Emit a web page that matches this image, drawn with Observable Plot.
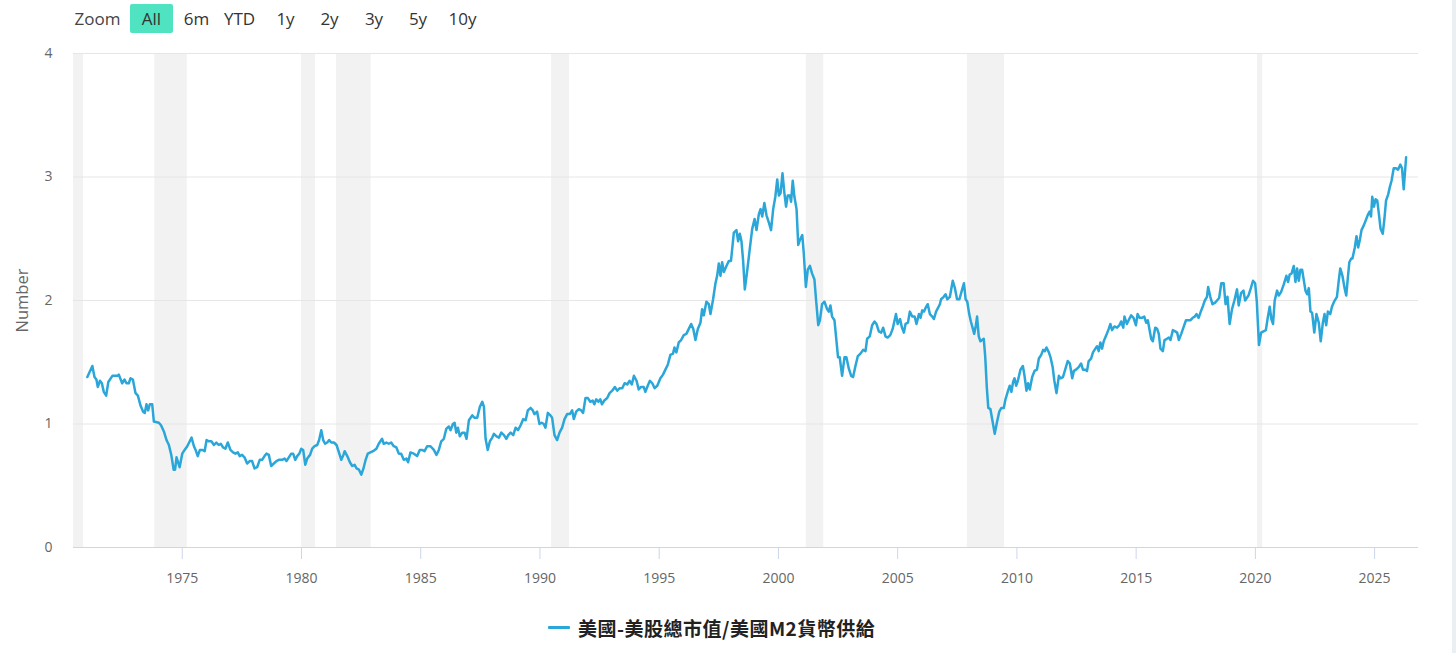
<!DOCTYPE html>
<html>
<head>
<meta charset="utf-8">
<script src="https://cdn.jsdelivr.net/npm/d3@7"></script>
<script src="https://cdn.jsdelivr.net/npm/@observablehq/plot@0.6"></script>
<style>
  html, body { margin: 0; padding: 0; background: #fff; overflow: hidden; }
  #wrap { position: relative; width: 1456px; height: 653px; font-family: "Open Sans", sans-serif; }
  #head { position: relative; height: 40px; }
  .btn { position: absolute; top: 18px; transform: translate(-50%, -50%); font-size: 17px; color: #333; white-space: nowrap; }
  #selbox { position: absolute; left: 130px; top: 4px; width: 43px; height: 29px; background: #4fe3c2; border-radius: 2px; }
  #legend { position: absolute; left: 548px; top: 612px; height: 30px; display: flex; align-items: center; }
  #legend .sym { width: 22px; height: 3px; background: #2aa6d9; margin-right: 8px; border-radius: 1px; }
  #legend .txt { font-family: "Noto Sans CJK TC", "Noto Sans", sans-serif; font-weight: bold; font-size: 19px; letter-spacing: 0.5px; color: #222; }
  #scroll { position: absolute; left: 1452px; top: 0; width: 4px; height: 653px; background: #eceff1; }
</style>
</head>
<body>
<div id="wrap">
  <div id="head"></div>
  <div id="chart"></div>
  <div id="legend"><div class="sym"></div><div class="txt"></div></div>
  <div id="scroll"></div>
</div>
<script>
// ---- data ----
const seriesName = "美國-美股總市值/美國M2貨幣供給";
const zoomLabel = "Zoom";
const zoomButtons = ["All", "6m", "YTD", "1y", "2y", "3y", "5y", "10y"];
const xTicks = [1975, 1980, 1985, 1990, 1995, 2000, 2005, 2010, 2015, 2020, 2025];
const yTicks = [0, 1, 2, 3, 4];
const yTitle = "Number";

const recessionStart = [1969.92, 1973.85, 1980.0, 1981.47, 1990.49, 2001.17, 2007.92, 2020.09];
const recessionEnd   = [1970.86, 1975.21, 1980.59, 1982.92, 1991.24, 2001.90, 2009.48, 2020.31];

const dates = [
1971.02,1971.23,1971.32,1971.40,1971.46,1971.55,1971.63,1971.71,1971.81,1971.90,1972.07,1972.28,1972.34,1972.48,1972.58,1972.66,1972.76,1972.83,1972.93,
1973.04,1973.14,1973.25,1973.36,1973.43,1973.50,1973.57,1973.64,1973.74,1973.81,1974.02,1974.11,1974.23,1974.34,1974.44,1974.54,1974.64,1974.70,1974.76,1974.89,
1975.00,1975.10,1975.21,1975.39,1975.49,1975.56,1975.65,1975.74,1975.84,1975.94,1976.02,1976.12,1976.22,1976.33,1976.43,1976.53,1976.62,1976.71,1976.81,1976.91,
1977.02,1977.13,1977.23,1977.33,1977.41,1977.51,1977.61,1977.72,1977.83,1977.93,1978.03,1978.14,1978.25,1978.35,1978.45,1978.53,1978.63,1978.73,
1978.84,1978.95,1979.05,1979.19,1979.29,1979.37,1979.47,1979.57,1979.65,1979.74,1979.82,1979.91,1979.99,1980.07,1980.16,1980.24,1980.36,1980.45,1980.55,1980.66,
1980.74,1980.83,1980.91,1980.99,1981.08,1981.16,1981.25,1981.36,1981.47,1981.57,1981.67,1981.76,1981.81,1981.92,1982.03,1982.13,1982.23,1982.31,1982.41,1982.51,
1982.60,1982.69,1982.78,1982.89,1983.00,1983.14,1983.24,1983.38,1983.45,1983.56,1983.66,1983.76,1983.87,1983.98,1984.08,1984.18,1984.29,1984.40,1984.47,1984.57,
1984.71,1984.85,1984.96,1985.06,1985.16,1985.27,1985.41,1985.55,1985.66,1985.76,1985.86,1985.97,1986.07,1986.18,1986.25,1986.35,1986.42,1986.49,1986.56,1986.64,
1986.74,1986.84,1986.92,1987.02,
1987.16,1987.26,1987.37,1987.48,1987.58,1987.65,1987.72,1987.81,1987.90,1988.00,1988.07,1988.18,1988.28,1988.38,1988.49,1988.59,1988.67,1988.77,1988.88,1988.98,
1989.08,1989.19,1989.30,1989.40,1989.49,1989.61,1989.70,1989.77,1989.88,1989.98,1990.07,1990.16,1990.23,1990.33,1990.44,1990.51,1990.61,1990.72,1990.82,1990.93,
1991.03,1991.14,1991.25,1991.35,1991.42,1991.52,1991.63,1991.73,1991.81,1991.91,1992.01,1992.11,1992.21,1992.28,1992.36,1992.45,1992.53,1992.60,1992.70,1992.82,
1992.92,1993.03,1993.14,1993.24,1993.35,1993.45,1993.55,1993.66,1993.76,1993.85,1993.94,1994.05,1994.14,1994.24,1994.35,1994.42,1994.52,1994.61,1994.71,1994.81,
1994.92,
1995.05,1995.16,1995.26,1995.36,1995.47,1995.58,1995.64,1995.72,1995.82,1995.92,1996.03,1996.14,1996.24,1996.34,1996.43,1996.52,1996.62,1996.73,1996.80,1996.87,
1996.98,1997.08,1997.15,1997.26,1997.36,1997.43,1997.50,1997.57,1997.64,1997.71,1997.82,1997.92,1998.01,1998.13,1998.24,1998.31,1998.38,1998.45,1998.52,1998.59,
1998.69,1998.80,1998.90,1999.00,1999.08,1999.18,1999.25,1999.32,1999.41,1999.50,1999.60,1999.69,1999.78,1999.87,1999.95,2000.02,2000.09,2000.17,2000.25,2000.32,
2000.39,2000.48,2000.53,2000.60,2000.67,2000.76,2000.83,2000.90,2001.00,2001.06,2001.15,2001.23,2001.32,2001.41,2001.51,2001.58,2001.67,2001.74,2001.83,2001.93,
2002.04,2002.11,2002.18,2002.25,2002.35,2002.43,2002.50,2002.57,2002.67,
2002.77,2002.85,2002.95,2003.05,2003.13,2003.23,2003.33,2003.44,2003.55,2003.65,2003.72,2003.83,2003.93,2004.03,2004.11,2004.21,2004.31,2004.39,2004.49,2004.58,
2004.69,2004.79,2004.93,2005.00,2005.10,2005.18,2005.26,2005.33,2005.43,2005.51,2005.61,2005.71,2005.79,2005.89,2005.96,2006.03,2006.10,2006.17,2006.26,2006.35,
2006.45,2006.52,2006.61,2006.77,2006.82,2006.93,2007.01,2007.08,2007.19,2007.31,2007.40,2007.49,2007.59,2007.69,2007.78,2007.85,2007.92,2008.00,2008.07,2008.14,
2008.21,2008.28,2008.33,2008.40,2008.47,2008.54,2008.61,2008.67,2008.74,2008.80,2008.89,2008.98,2009.07,2009.17,2009.26,2009.35,2009.45,2009.52,2009.63,2009.70,
2009.77,2009.84,2009.90,2009.97,2010.04,2010.15,2010.25,2010.32,2010.40,2010.47,2010.54,2010.64,2010.74,2010.84,2010.92,
2011.02,2011.10,2011.17,2011.24,2011.34,2011.41,2011.50,2011.57,2011.66,2011.76,2011.83,2011.93,2012.04,2012.13,2012.22,2012.32,2012.39,2012.48,2012.59,2012.69,
2012.77,2012.87,2012.94,2013.01,2013.11,2013.19,2013.29,2013.36,2013.43,2013.50,2013.57,2013.64,2013.75,2013.85,2013.92,2013.99,2014.09,2014.20,2014.30,2014.37,
2014.46,2014.51,2014.61,2014.71,2014.79,2014.89,2014.99,2015.06,2015.14,2015.24,2015.34,2015.42,2015.49,2015.63,2015.70,2015.80,2015.88,2015.95,2016.02,2016.12,
2016.19,2016.29,2016.37,2016.44,2016.54,2016.64,2016.72,2016.79,2016.89,2017.00,2017.09,2017.16,2017.27,2017.37,2017.46,2017.53,2017.62,2017.71,2017.81,2017.88,
2017.97,2018.02,2018.11,2018.20,2018.30,2018.39,2018.48,2018.57,2018.67,2018.75,2018.83,2018.92,
2019.02,2019.12,2019.23,2019.30,2019.40,2019.50,2019.57,2019.71,2019.81,2019.90,2019.99,2020.06,2020.15,2020.24,2020.34,2020.44,2020.51,2020.60,2020.67,2020.74,
2020.81,2020.91,2020.98,2021.08,2021.19,2021.30,2021.37,2021.44,2021.52,2021.61,2021.68,2021.75,2021.82,2021.89,2021.96,2022.10,2022.17,2022.24,2022.31,2022.38,
2022.47,2022.56,2022.66,2022.74,2022.83,2022.90,2022.97,2023.04,2023.14,2023.21,2023.30,2023.42,2023.49,2023.56,2023.65,2023.74,2023.81,2023.88,2023.94,2024.02,
2024.07,2024.17,2024.24,2024.31,2024.38,2024.45,2024.55,2024.65,2024.73,2024.79,2024.85,2024.90,2024.97,2025.04,2025.11,2025.18,2025.25,2025.34,2025.41,2025.48,
2025.57,2025.64,2025.71,2025.80,2025.90,2025.98,2026.08,2026.15,2026.22,2026.32
];

const ratio = [
1.38,1.47,1.38,1.36,1.30,1.35,1.33,1.26,1.23,1.34,1.39,1.39,1.40,1.33,1.36,1.33,1.33,1.37,1.36,
1.25,1.23,1.15,1.10,1.09,1.16,1.11,1.16,1.16,1.02,1.01,0.99,0.94,0.87,0.83,0.75,0.63,0.63,0.73,0.65,
0.76,0.79,0.82,0.89,0.82,0.79,0.74,0.79,0.79,0.78,0.87,0.86,0.86,0.83,0.85,0.83,0.84,0.81,0.80,0.85,
0.79,0.77,0.76,0.77,0.74,0.75,0.73,0.68,0.70,0.70,0.64,0.65,0.71,0.71,0.74,0.76,0.75,0.66,
0.68,0.70,0.71,0.71,0.72,0.70,0.73,0.76,0.76,0.71,0.74,0.76,0.80,0.79,0.67,0.72,0.75,0.80,0.82,0.83,
0.87,0.95,0.87,0.84,0.85,0.87,0.85,0.85,0.83,0.77,0.71,0.75,0.78,0.74,0.69,0.66,0.67,0.64,0.63,0.59,
0.64,0.71,0.76,0.77,0.78,0.80,0.84,0.88,0.84,0.85,0.84,0.85,0.82,0.81,0.76,0.76,0.71,0.72,0.69,0.77,
0.76,0.74,0.79,0.79,0.78,0.82,0.82,0.79,0.75,0.79,0.86,0.88,0.96,0.98,0.95,1.00,1.01,0.93,0.97,0.90,
0.93,0.93,0.88,1.03,
1.07,1.05,1.05,1.14,1.18,1.14,0.88,0.79,0.86,0.89,0.92,0.90,0.89,0.93,0.91,0.88,0.91,0.93,0.91,0.97,
0.95,0.99,1.04,1.03,1.11,1.13,1.11,1.08,1.10,1.00,1.01,1.00,0.97,1.09,1.07,1.05,0.91,0.87,0.93,0.97,
1.04,1.08,1.08,1.11,1.04,1.10,1.12,1.11,1.09,1.21,1.21,1.18,1.19,1.16,1.20,1.18,1.20,1.16,1.19,1.21,
1.25,1.27,1.30,1.27,1.29,1.29,1.33,1.32,1.35,1.32,1.39,1.35,1.28,1.30,1.30,1.26,1.31,1.35,1.33,1.29,
1.31,
1.37,1.40,1.44,1.48,1.56,1.57,1.62,1.58,1.66,1.68,1.72,1.73,1.77,1.81,1.77,1.68,1.77,1.82,1.93,1.88,
1.99,1.97,1.89,2.01,2.14,2.20,2.30,2.20,2.31,2.23,2.28,2.32,2.32,2.55,2.57,2.48,2.54,2.48,2.32,2.09,
2.24,2.42,2.58,2.66,2.57,2.70,2.74,2.68,2.79,2.69,2.63,2.57,2.74,2.84,2.98,2.85,2.87,3.03,2.87,2.76,
2.85,2.85,2.80,2.97,2.84,2.74,2.45,2.49,2.53,2.39,2.11,2.25,2.28,2.22,2.17,2.00,1.80,1.84,1.97,1.99,
1.93,1.91,1.96,1.87,1.84,1.68,1.54,1.54,1.39,
1.54,1.54,1.45,1.39,1.38,1.47,1.55,1.57,1.60,1.59,1.69,1.71,1.80,1.83,1.81,1.75,1.74,1.78,1.71,1.70,
1.72,1.77,1.89,1.81,1.85,1.78,1.74,1.81,1.82,1.91,1.87,1.87,1.81,1.89,1.86,1.92,1.91,1.94,1.97,1.89,
1.87,1.85,1.91,1.97,2.01,2.03,2.05,2.01,2.03,2.16,2.10,2.01,2.01,2.08,2.14,2.01,1.99,1.89,1.83,1.78,
1.73,1.80,1.87,1.71,1.67,1.68,1.69,1.55,1.29,1.13,1.12,1.02,0.92,1.02,1.10,1.13,1.13,1.20,1.27,1.31,
1.26,1.34,1.37,1.31,1.35,1.44,1.47,1.39,1.27,1.33,1.28,1.38,1.43,1.44,1.53,
1.56,1.60,1.59,1.62,1.58,1.54,1.46,1.35,1.25,1.39,1.37,1.38,1.45,1.51,1.49,1.37,1.43,1.44,1.46,1.49,
1.44,1.44,1.43,1.51,1.53,1.58,1.61,1.63,1.59,1.66,1.61,1.67,1.72,1.77,1.81,1.76,1.79,1.78,1.80,1.83,
1.78,1.87,1.81,1.85,1.88,1.86,1.80,1.89,1.86,1.86,1.87,1.82,1.84,1.69,1.67,1.78,1.77,1.73,1.61,1.59,
1.68,1.69,1.70,1.68,1.76,1.75,1.74,1.68,1.73,1.79,1.84,1.84,1.84,1.86,1.87,1.89,1.86,1.91,1.96,2.00,
2.03,2.11,2.03,1.97,1.98,2.00,2.02,2.14,2.14,1.97,2.03,1.81,
1.93,2.00,2.09,1.96,2.06,2.08,2.00,2.04,2.10,2.16,2.14,1.99,1.64,1.74,1.75,1.76,1.85,1.95,1.85,1.81,
2.00,2.08,2.04,2.07,2.13,2.20,2.15,2.21,2.22,2.28,2.15,2.26,2.16,2.25,2.25,2.08,2.05,2.10,1.91,1.90,
1.74,1.89,1.82,1.67,1.82,1.89,1.80,1.91,1.89,1.95,1.99,2.03,2.15,2.26,2.20,2.10,2.04,2.19,2.31,2.34,
2.34,2.43,2.52,2.43,2.49,2.57,2.61,2.66,2.70,2.72,2.68,2.84,2.76,2.82,2.81,2.70,2.58,2.54,2.66,2.81,
2.86,2.92,2.97,3.07,3.07,3.06,3.10,3.07,2.90,3.16
];

// ---- header (range selector) ----
const head = document.getElementById("head");
const btnCenters = [151.5, 196.5, 239.5, 285.5, 329.5, 374, 418, 462.5];
const selBox = document.createElement("div");
selBox.id = "selbox";
head.appendChild(selBox);
const zl = document.createElement("span");
zl.className = "btn"; zl.style.left = "97.5px"; zl.style.color = "#444"; zl.textContent = zoomLabel;
head.appendChild(zl);
zoomButtons.forEach((b, i) => {
  const s = document.createElement("span");
  s.className = "btn"; s.style.left = btnCenters[i] + "px"; s.textContent = b;
  head.appendChild(s);
});
document.querySelector("#legend .txt").textContent = seriesName;

// ---- chart ----
const data = dates.map((t, i) => ({t, v: ratio[i]}));
const xDomain = [1970.44, 2026.84];
const bands = recessionStart.map((s, i) => ({s: Math.max(s, xDomain[0]), e: recessionEnd[i]}));

const chart = Plot.plot({
  width: 1456,
  height: 560,
  marginTop: 13,
  marginBottom: 53,
  marginLeft: 73,
  marginRight: 38,
  style: {fontFamily: "Open Sans, sans-serif", fontSize: "14px", background: "#fff"},
  x: {domain: xDomain, label: null},
  y: {domain: [0, 4], label: null},
  marks: [
    Plot.rect(bands, {x1: "s", x2: "e", y1: 0, y2: 4, fill: "#f2f2f2"}),
    Plot.ruleY([1, 2, 3, 4], {stroke: "#e6e6e6", strokeWidth: 1}),
    Plot.ruleY([0], {stroke: "#ccd6eb", strokeWidth: 1}),
    Plot.axisX({ticks: xTicks, tickFormat: d => String(d), tickSize: 12, tickPadding: 14, stroke: "#ccd6eb", fill: "#666", fontSize: 14}),
    Plot.axisY({ticks: yTicks, tickFormat: d => String(d), tickSize: 0, tickPadding: 21, fill: "#666", fontSize: 14}),
    Plot.text([yTitle], {frameAnchor: "left", textAnchor: "middle", rotate: -90, dx: -51, fill: "#666", fontSize: 16.5}),
    Plot.line(data, {x: "t", y: "v", stroke: "#2aa6d9", strokeWidth: 2.5, strokeLinejoin: "round"})
  ]
});
document.getElementById("chart").appendChild(chart);
</script>
</body>
</html>
